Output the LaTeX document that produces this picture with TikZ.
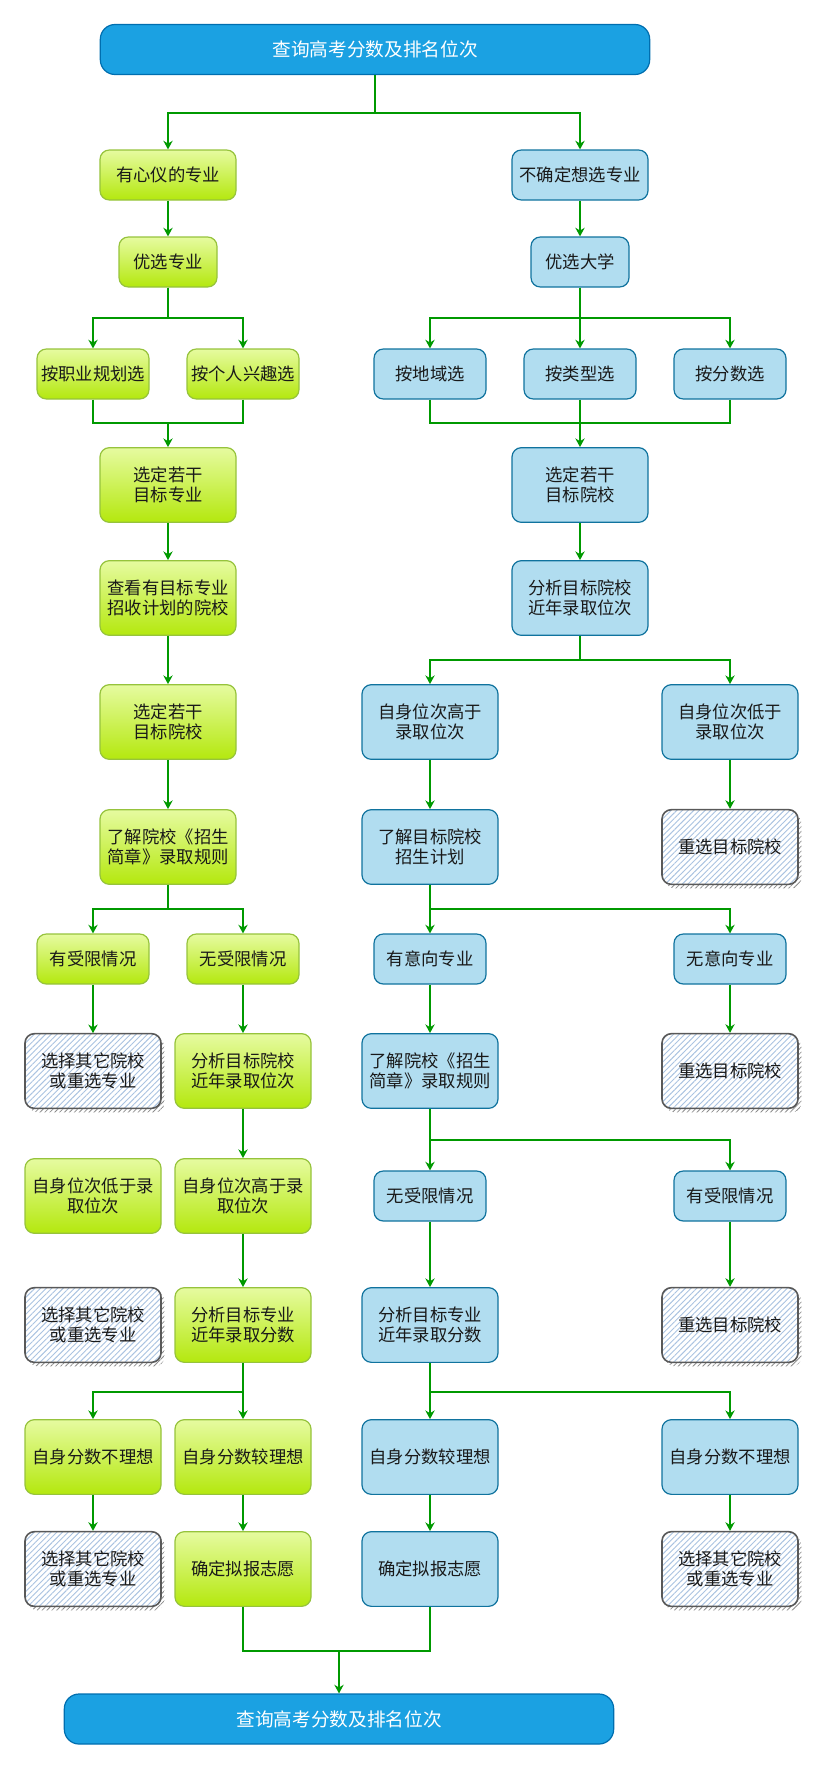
\documentclass[tikz,border=0pt]{standalone}
\usepackage{fontspec}
\newfontfamily\cjk{Noto Sans CJK SC}
\usetikzlibrary{arrows.meta,patterns.meta,calc}
\definecolor{QueryBlue}{RGB}{27,161,226}
\definecolor{QueryLine}{RGB}{0,110,175}
\definecolor{GreenTop}{RGB}{230,251,160}
\definecolor{GreenBot}{RGB}{180,232,14}
\definecolor{GreenLine}{RGB}{150,195,60}
\definecolor{PaleBlue}{RGB}{177,221,240}
\definecolor{PaleLine}{RGB}{16,115,158}
\definecolor{HatchBlue}{RGB}{170,195,225}
\definecolor{LinkGreen}{RGB}{0,153,0}

\begin{document}
\begin{tikzpicture}[x=0.75pt,y=-0.75pt,
    box/.style={rounded corners=7pt, align=center, inner sep=0pt, line width=0.9pt,
      font=\cjk\fontsize{13}{15}\selectfont, text=black!90},
    big/.style={minimum width=102pt, minimum height=56pt},
    mid/.style={minimum width=102pt, minimum height=37.5pt},
    small/.style={minimum width=84pt, minimum height=37.5pt},
    tiny/.style={minimum width=73.5pt, minimum height=37.5pt},
    green/.style={box, draw=GreenLine, top color=GreenTop, bottom color=GreenBot},
    blue/.style={box, draw=PaleLine, fill=PaleBlue},
    redo/.style={box, big, draw=black!65, line width=1.2pt,
      preaction={draw=none, pattern={Lines[angle=45,distance=2.6pt,line width=0.6pt]},
        pattern color=black!45, transform canvas={shift={(2.5pt,-3pt)}}},
      preaction={fill=white},
      pattern={Lines[angle=45,distance=3pt,line width=0.7pt]}, pattern color=HatchBlue},
    query/.style={box, rounded corners=11pt, draw=QueryLine, fill=QueryBlue, text=white,
      minimum width=412pt, minimum height=37.5pt, font=\cjk\fontsize{14}{17}\selectfont},
    link/.style={draw=LinkGreen, line width=1pt},
    arr/.style={link, -{Stealth[length=6.5pt,width=7pt]}}]
  \useasboundingbox (0,0) rectangle (826,1770);

  \node[query] (top) at (375,49.5) {查询高考分数及排名位次};

  % left: known major
  \node[green,mid] (hasmaj) at (168,175) {有心仪的专业};
  \node[green,tiny] (prefmaj) at (168,262) {优选专业};
  \node[green,small] (bycareer) at (93,374) {按职业规划选};
  \node[green,small] (byinterest) at (243,374) {按个人兴趣选};
  \node[green,big] (majset) at (168,485) {选定若干\\目标专业};
  \node[green,big] (checkplan) at (168,598) {查看有目标专业\\招收计划的院校};
  \node[green,big] (schset) at (168,722) {选定若干\\目标院校};
  \node[green,big] (readrule) at (168,847) {了解院校《招生\\简章》录取规则};
  \node[green,small] (limited) at (93,959) {有受限情况};
  \node[green,small] (nolimit) at (243,959) {无受限情况};
  \node[redo] (redoA) at (93,1071) {选择其它院校\\或重选专业};
  \node[green,big] (rankschool) at (243,1071) {分析目标院校\\近年录取位次};
  \node[green,big] (rankLow) at (93,1196) {自身位次低于录\\取位次};
  \node[green,big] (rankHigh) at (243,1196) {自身位次高于录\\取位次};
  \node[redo] (redoB) at (93,1325) {选择其它院校\\或重选专业};
  \node[green,big] (scoremaj) at (243,1325) {分析目标专业\\近年录取分数};
  \node[green,big] (scoreBad) at (93,1457) {自身分数不理想};
  \node[green,big] (scoreGood) at (243,1457) {自身分数较理想};
  \node[redo] (redoC) at (93,1569) {选择其它院校\\或重选专业};
  \node[green,big] (decideL) at (243,1569) {确定拟报志愿};

  % right: no major yet
  \node[blue,mid] (nomaj) at (580,175) {不确定想选专业};
  \node[blue,tiny] (prefuni) at (580,262) {优选大学};
  \node[blue,small] (byregion) at (430,374) {按地域选};
  \node[blue,small] (bytype) at (580,374) {按类型选};
  \node[blue,small] (byscore) at (730,374) {按分数选};
  \node[blue,big] (uniset) at (580,485) {选定若干\\目标院校};
  \node[blue,big] (rankuni) at (580,598) {分析目标院校\\近年录取位次};
  \node[blue,big] (above) at (430,722) {自身位次高于\\录取位次};
  \node[blue,big] (below) at (730,722) {自身位次低于\\录取位次};
  \node[blue,big] (uniplan) at (430,847) {了解目标院校\\招生计划};
  \node[redo] (reuniA) at (730,847) {重选目标院校};
  \node[blue,small] (intent) at (430,959) {有意向专业};
  \node[blue,small] (nointent) at (730,959) {无意向专业};
  \node[blue,big] (ruleR) at (430,1071) {了解院校《招生\\简章》录取规则};
  \node[redo] (reuniB) at (730,1071) {重选目标院校};
  \node[blue,small] (freeR) at (430,1196) {无受限情况};
  \node[blue,small] (limitR) at (730,1196) {有受限情况};
  \node[blue,big] (scoreR) at (430,1325) {分析目标专业\\近年录取分数};
  \node[redo] (reuniC) at (730,1325) {重选目标院校};
  \node[blue,big] (goodR) at (430,1457) {自身分数较理想};
  \node[blue,big] (badR) at (730,1457) {自身分数不理想};
  \node[blue,big] (decideR) at (430,1569) {确定拟报志愿};
  \node[redo] (redoR) at (730,1569) {选择其它院校\\或重选专业};

  \node[query] (bottom) at (339,1719) {查询高考分数及排名位次};

  % joins
  \coordinate (jL) at (168,423);
  \coordinate (jR) at (580,423);
  \coordinate (jB) at (339,1651);

  % straight links
  \foreach \s/\t in {hasmaj/prefmaj, nomaj/prefuni, majset/checkplan, checkplan/schset,
      schset/readrule, uniset/rankuni, above/uniplan, below/reuniA, limited/redoA,
      nolimit/rankschool, rankschool/rankHigh, rankHigh/scoremaj, intent/ruleR,
      nointent/reuniB, freeR/scoreR, limitR/reuniC, scoreBad/redoC, scoreGood/decideL,
      goodR/decideR, badR/redoR}
    \draw[arr] (\s.south) -- (\t.north);

  % branches
  \foreach \s/\y/\t in {top/113/hasmaj, top/113/nomaj, prefmaj/318/bycareer,
      prefmaj/318/byinterest, prefuni/318/byregion, prefuni/318/bytype,
      prefuni/318/byscore, rankuni/660/above, rankuni/660/below,
      readrule/909/limited, readrule/909/nolimit, uniplan/909/intent,
      uniplan/909/nointent, ruleR/1140/freeR, ruleR/1140/limitR,
      scoremaj/1392/scoreBad, scoremaj/1392/scoreGood, scoreR/1392/goodR,
      scoreR/1392/badR}
    \draw[arr] (\s.south) -- (\s.south |- 0,\y) -| (\t.north);

  % merges
  \foreach \s in {bycareer,byinterest} \draw[link] (\s.south) |- (jL);
  \foreach \s in {byregion,bytype,byscore} \draw[link] (\s.south) |- (jR);
  \foreach \s in {decideL,decideR} \draw[link] (\s.south) |- (jB);
  \draw[arr] (jL) -- (majset.north);
  \draw[arr] (jR) -- (uniset.north);
  \draw[arr] (jB) -- (bottom.north);
\end{tikzpicture}
\end{document}
